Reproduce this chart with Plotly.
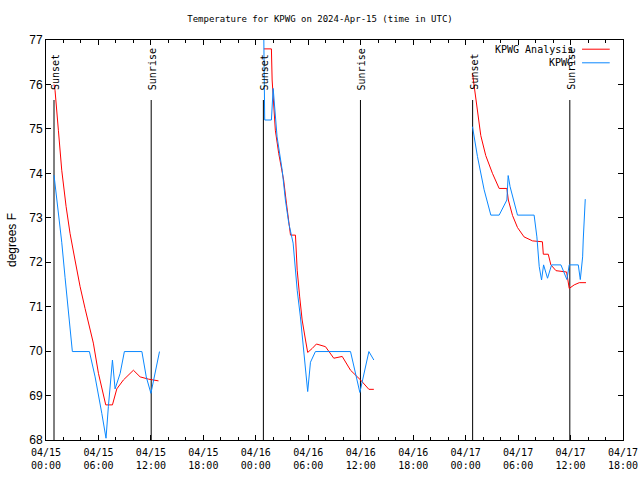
import plotly.graph_objects as go

# ---------------- data ----------------
analysis_times = [
    "2024-04-15 00:55", "2024-04-15 01:02", "2024-04-15 01:25", "2024-04-15 01:48", "2024-04-15 02:18",
    "2024-04-15 02:45", "2024-04-15 03:19", "2024-04-15 03:54", "2024-04-15 04:28", "2024-04-15 05:25",
    "2024-04-15 06:00", "2024-04-15 06:34", "2024-04-15 06:50", "2024-04-15 07:36", "2024-04-15 08:06",
    "2024-04-15 08:51", "2024-04-15 10:00", "2024-04-15 10:46", "2024-04-15 11:43", "2024-04-15 12:52",
    None,
    "2024-04-16 00:55", "2024-04-16 01:47", "2024-04-16 01:52", "2024-04-16 02:14", "2024-04-16 02:37",
    "2024-04-16 03:11", "2024-04-16 03:30", "2024-04-16 03:58", "2024-04-16 04:32", "2024-04-16 04:44",
    "2024-04-16 05:01", "2024-04-16 05:18", "2024-04-16 05:41", "2024-04-16 05:56", "2024-04-16 06:27",
    "2024-04-16 06:56", "2024-04-16 07:58", "2024-04-16 08:55", "2024-04-16 09:53", "2024-04-16 10:50",
    "2024-04-16 11:59", "2024-04-16 12:56", "2024-04-16 13:30",
    None,
    "2024-04-17 00:47", "2024-04-17 01:10", "2024-04-17 01:44", "2024-04-17 02:18", "2024-04-17 03:04",
    "2024-04-17 03:50", "2024-04-17 04:43", "2024-04-17 04:53", "2024-04-17 05:22", "2024-04-17 05:56",
    "2024-04-17 06:41", "2024-04-17 07:39", "2024-04-17 08:47", "2024-04-17 08:53", "2024-04-17 09:27",
    "2024-04-17 09:45", "2024-04-17 10:20", "2024-04-17 11:33", "2024-04-17 11:40", "2024-04-17 11:51",
    "2024-04-17 12:25", "2024-04-17 13:00", "2024-04-17 13:46",
]
analysis_temps = [
    76.0, 75.87, 74.97, 74.07, 73.25,
    72.65, 72.05, 71.45, 70.96, 70.18,
    69.5, 69.05, 68.79, 68.79, 69.15,
    69.35, 69.57, 69.42, 69.37, 69.33,
    None,
    76.8, 76.8, 76.1, 74.97, 74.45,
    73.85, 73.33, 72.61, 72.61, 71.82,
    71.22, 70.7, 70.25, 69.97, 70.06,
    70.16, 70.1, 69.84, 69.88, 69.57,
    69.35, 69.14, 69.14,
    None,
    76.25, 75.65, 74.85, 74.4, 74.0,
    73.66, 73.66, 73.4, 73.05, 72.78,
    72.57, 72.48, 72.46, 72.18, 72.18,
    71.94, 71.81, 71.78, 71.6, 71.41,
    71.49, 71.54, 71.54,
]

obs_times = [
    "2024-04-15 00:55", "2024-04-15 01:25", "2024-04-15 01:48", "2024-04-15 02:11", "2024-04-15 02:33",
    "2024-04-15 03:01", "2024-04-15 04:58", "2024-04-15 05:37", "2024-04-15 06:23", "2024-04-15 06:52",
    "2024-04-15 07:08", "2024-04-15 07:36", "2024-04-15 07:54", "2024-04-15 08:29", "2024-04-15 08:58",
    "2024-04-15 10:58", "2024-04-15 11:28", "2024-04-15 12:00", "2024-04-15 12:59",
    None,
    "2024-04-16 00:54", "2024-04-16 01:01", "2024-04-16 01:47", "2024-04-16 01:59", "2024-04-16 02:26",
    "2024-04-16 03:01", "2024-04-16 03:23", "2024-04-16 03:46", "2024-04-16 04:16", "2024-04-16 04:44",
    "2024-04-16 05:06", "2024-04-16 05:29", "2024-04-16 05:41", "2024-04-16 05:56", "2024-04-16 06:15",
    "2024-04-16 06:49", "2024-04-16 10:50", "2024-04-16 11:24", "2024-04-16 11:54", "2024-04-16 12:56",
    "2024-04-16 13:30",
    None,
    "2024-04-17 00:47", "2024-04-17 01:21", "2024-04-17 02:07", "2024-04-17 02:53", "2024-04-17 03:50",
    "2024-04-17 04:43", "2024-04-17 04:52", "2024-04-17 05:05", "2024-04-17 05:56", "2024-04-17 07:50",
    "2024-04-17 08:09", "2024-04-17 08:25", "2024-04-17 08:41", "2024-04-17 08:55", "2024-04-17 09:22",
    "2024-04-17 09:50", "2024-04-17 10:54", "2024-04-17 11:17", "2024-04-17 11:35", "2024-04-17 11:51",
    "2024-04-17 12:53", "2024-04-17 13:07", "2024-04-17 13:23", "2024-04-17 13:27", "2024-04-17 13:41",
]
obs_temps = [
    73.96, 73.17, 72.45, 71.65, 70.85,
    69.99, 69.99, 69.42, 68.6, 68.04,
    68.75, 69.8, 69.15, 69.5, 69.99,
    69.99, 69.42, 69.05, 69.99,
    None,
    77.3, 75.2, 75.2, 75.91, 74.82,
    74.07, 73.4, 72.88, 72.43, 71.37,
    70.77, 70.02, 69.65, 69.09, 69.75,
    69.99, 69.99, 69.5, 69.07, 69.99,
    69.8,
    None,
    75.05, 74.38, 73.63, 73.06, 73.06,
    73.4, 73.95, 73.7, 73.06, 73.06,
    72.57, 71.9, 71.6, 71.94, 71.64,
    71.94, 71.94, 71.75, 71.61, 71.94,
    71.94, 71.61, 72.12, 72.5, 73.42,
]

sun_times = ["2024-04-15 00:55", "2024-04-15 12:02", "2024-04-16 00:52",
             "2024-04-16 11:58", "2024-04-17 00:48", "2024-04-17 11:55"]
sun_labels = ["Sunset", "Sunrise", "Sunset", "Sunrise", "Sunset", "Sunrise"]

tick_times = ["2024-04-15 00:00", "2024-04-15 06:00", "2024-04-15 12:00", "2024-04-15 18:00",
              "2024-04-16 00:00", "2024-04-16 06:00", "2024-04-16 12:00", "2024-04-16 18:00",
              "2024-04-17 00:00", "2024-04-17 06:00", "2024-04-17 12:00", "2024-04-17 18:00"]
tick_labels = ["04/15<br>00:00", "04/15<br>06:00", "04/15<br>12:00", "04/15<br>18:00",
               "04/16<br>00:00", "04/16<br>06:00", "04/16<br>12:00", "04/16<br>18:00",
               "04/17<br>00:00", "04/17<br>06:00", "04/17<br>12:00", "04/17<br>18:00"]
y_ticks = [68, 69, 70, 71, 72, 73, 74, 75, 76, 77]

series_names = ["KPWG Analysis", "KPWG"]
series_colors = ["#ff0000", "#0a88ff"]

title_text = "Temperature for KPWG on 2024-Apr-15 (time in UTC)"
y_title = "degrees F"

X_RANGE = ["2024-04-15 00:00", "2024-04-17 18:00"]
Y_RANGE = [68, 77]
MARKER_TOP = 75.65   # top of sunrise/sunset lines
LABEL_BOTTOM = 75.83  # bottom of sunrise/sunset labels

MONO = "DejaVu Sans Mono"

# ---------------- figure ----------------
fig = go.Figure()
fig.add_trace(go.Scatter(x=analysis_times, y=analysis_temps, mode="lines",
                         name=series_names[0], line=dict(color=series_colors[0], width=1),
                         connectgaps=False, showlegend=False))
fig.add_trace(go.Scatter(x=obs_times, y=obs_temps, mode="lines",
                         name=series_names[1], line=dict(color=series_colors[1], width=1),
                         connectgaps=False, showlegend=False))

for t, lab in zip(sun_times, sun_labels):
    fig.add_shape(type="line", xref="x", yref="y", x0=t, x1=t, y0=Y_RANGE[0], y1=MARKER_TOP,
                  line=dict(color="black", width=1), layer="below")
    fig.add_annotation(x=t, y=LABEL_BOTTOM, xref="x", yref="y", text=lab, showarrow=False,
                       textangle=-90, xanchor="center", yanchor="bottom", xshift=1,
                       font=dict(family=MONO, size=10, color="black"))

# custom legend (text on the left, line sample on the right)
leg_y = [0.977, 0.943]
for name, col, ly in zip(series_names, series_colors, leg_y):
    fig.add_annotation(x=0.917, y=ly, xref="paper", yref="paper", text=name, showarrow=False,
                       xanchor="right", yanchor="middle",
                       font=dict(family=MONO, size=10, color="black"))
    fig.add_shape(type="line", xref="paper", yref="paper", x0=0.929, x1=0.977, y0=ly, y1=ly,
                  line=dict(color=col, width=1))

fig.update_layout(
    width=640, height=480,
    margin=dict(l=46, r=17, t=40, b=40, autoexpand=False),
    paper_bgcolor="white", plot_bgcolor="white",
    title=dict(text=title_text, x=0.5, xref="container",
               y=1 - 19 / 480, yref="container",
               xanchor="center", yanchor="middle",
               font=dict(family=MONO, size=9, color="black")),
    showlegend=False,
)
fig.update_xaxes(
    type="date", range=X_RANGE, tickmode="array", tickvals=tick_times, ticktext=tick_labels,
    ticks="inside", ticklen=5, tickcolor="black", tickwidth=1, ticklabelstandoff=3,
    minor=dict(dtick=2 * 3600 * 1000, ticks="inside", ticklen=3, tickcolor="black", showgrid=False),
    showline=True, linecolor="black", linewidth=1, mirror="allticks",
    showgrid=False, zeroline=False, automargin=False,
    tickfont=dict(family=MONO, size=10, color="black"),
)
fig.update_yaxes(
    range=Y_RANGE, tickmode="array", tickvals=y_ticks,
    ticks="inside", ticklen=5, tickcolor="black", tickwidth=1,
    showline=True, linecolor="black", linewidth=1, mirror="allticks",
    showgrid=False, zeroline=False, automargin=False,
    tickfont=dict(family="Liberation Sans", size=12, color="black"),
    title=dict(text=y_title, standoff=10, font=dict(family="Liberation Sans", size=12, color="black")),
)

# remove the browser's default page margin so the 640x480 figure fills the window exactly
fig.write_html("out.html", config={"displayModeBar": False},
               post_script="document.body.style.margin='0';document.body.style.overflow='hidden';")
